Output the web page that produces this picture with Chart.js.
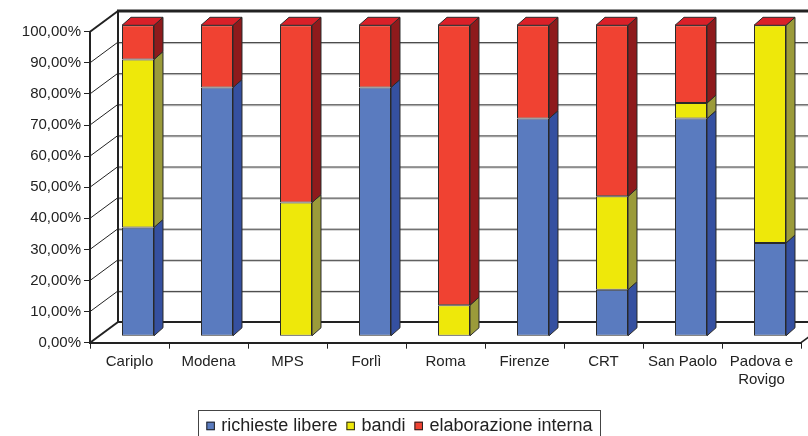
<!DOCTYPE html>
<html><head><meta charset="utf-8">
<script src="https://cdn.jsdelivr.net/npm/chart.js@4.4.1/dist/chart.umd.min.js"></script>
<style>html,body{margin:0;padding:0;background:#fff;overflow:hidden}#wrap{width:808px;height:436px;position:relative}</style>
</head><body><div id="wrap"><canvas id="c" width="808" height="436"></canvas></div>
<script>
const categories = ['Cariplo','Modena','MPS','Forlì','Roma','Firenze','CRT','San Paolo',['Padova e','Rovigo']];
const seriesNames = ['richieste libere','bandi','elaborazione interna'];
const richiesteLibere = [35, 80, 0, 80, 0, 70, 15, 70, 30];
const bandi = [54, 0, 43, 0, 10, 0, 30, 5, 70];
const elaborazioneInterna = [11, 20, 57, 20, 90, 30, 55, 25, 0];
const yTickValues = [0,10,20,30,40,50,60,70,80,90,100];

const frontColors = ['#5A7BBF', '#EEE80A', '#F04232'];
const sideColors = ['#3550A0', '#9B9B3A', '#8E1A1C'];
const capColor = '#DA2029';
const FONT = "'Liberation Sans', Arial, sans-serif";

const WALL_DX = 28, WALL_DY = -20.7;   // depth of the 3D box
const BAR_SHIFT_X = 8.5, BAR_SHIFT_Y = -6.4; // bars sit inside the box
const BAR_DX = 9, BAR_DY = -8;          // bar depth

function line(ctx, x1, y1, x2, y2) { ctx.beginPath(); ctx.moveTo(x1, y1); ctx.lineTo(x2, y2); ctx.stroke(); }
function poly(ctx, pts, fill) {
  ctx.beginPath(); ctx.moveTo(pts[0][0], pts[0][1]);
  for (let k = 1; k < pts.length; k++) ctx.lineTo(pts[k][0], pts[k][1]);
  ctx.closePath(); ctx.fillStyle = fill; ctx.fill();
  ctx.strokeStyle = '#2a2a2a'; ctx.lineWidth = 1; ctx.stroke();
}

const threeD = {
  id: 'threeD',
  beforeDatasetsDraw(chart) {
    const { ctx, chartArea: a, scales: { y } } = chart;
    const W = chart.width;
    ctx.save();
    const bx = a.left + WALL_DX;
    yTickValues.forEach(v => {
      const fy = y.getPixelForValue(v);
      const by = fy + WALL_DY;
      if (v > 0 && v < 100) {
        ctx.lineWidth = 1;
        ctx.strokeStyle = '#c4c4c4'; line(ctx, bx, by + 1.5, W, by + 1.5);
        ctx.strokeStyle = '#3a3a3a'; line(ctx, bx, by + 0.5, W, by + 0.5);
      }
      ctx.strokeStyle = '#222';
      ctx.lineWidth = (v === 0 || v === 100) ? 2 : 1;
      line(ctx, a.left, fy, bx, by);
    });
    const b0 = y.getPixelForValue(0) + WALL_DY;
    const b100 = y.getPixelForValue(100) + WALL_DY;
    ctx.strokeStyle = '#222';
    ctx.lineWidth = 2; line(ctx, bx - 1, b0, W, b0);
    ctx.lineWidth = 3; line(ctx, bx - 1, b100, W, b100);
    ctx.lineWidth = 2; line(ctx, bx, b100, bx, b0);
    ctx.lineWidth = 1.5; line(ctx, a.right, a.bottom, a.right + WALL_DX, a.bottom + WALL_DY);
    ctx.restore();
    ctx.save();
    ctx.translate(BAR_SHIFT_X, BAR_SHIFT_Y);
  },
  afterDatasetsDraw(chart) {
    const { ctx, scales: { y } } = chart;
    chart.data.datasets.forEach((ds, d) => {
      const meta = chart.getDatasetMeta(d);
      meta.data.forEach(bar => {
        const p = bar.getProps(['x', 'y', 'base', 'width'], true);
        const top = Math.min(p.y, p.base), bot = Math.max(p.y, p.base);
        if (bot - top < 0.5) return;
        const r = p.x + p.width / 2;
        poly(ctx, [[r, top], [r + BAR_DX, top + BAR_DY], [r + BAR_DX, bot + BAR_DY], [r, bot]], sideColors[d]);
      });
    });
    const lastMeta = chart.getDatasetMeta(chart.data.datasets.length - 1);
    lastMeta.data.forEach((bar, i) => {
      const p = bar.getProps(['x', 'width'], true);
      const total = richiesteLibere[i] + bandi[i] + elaborazioneInterna[i];
      const t = y.getPixelForValue(total);
      const l = p.x - p.width / 2, r = p.x + p.width / 2;
      poly(ctx, [[l, t], [l + BAR_DX, t + BAR_DY], [r + BAR_DX, t + BAR_DY], [r, t]], capColor);
    });
    ctx.restore();
  },
  afterDraw(chart) {
    const { ctx } = chart;
    ctx.save();
    ctx.font = '18px ' + FONT;
    ctx.textBaseline = 'alphabetic';
    const sq = 8.5, gapSqText = 6.5, gapItems = 9, padL = 8.5, padR = 7;
    const widths = seriesNames.map(n => ctx.measureText(n).width);
    let total = padL + padR;
    widths.forEach((w, i) => { total += sq + gapSqText + w + (i < widths.length - 1 ? gapItems : 0); });
    const cx = 398.7;
    const left = cx - total / 2;
    ctx.strokeStyle = '#444'; ctx.lineWidth = 1;
    ctx.strokeRect(Math.round(left) + 0.5, 410.5, Math.round(total), 40);
    let x = left + padL;
    seriesNames.forEach((n, i) => {
      ctx.fillStyle = frontColors[i];
      ctx.fillRect(x, 421.7, sq, sq);
      ctx.strokeStyle = '#222';
      ctx.strokeRect(x + 0.5, 422.2, sq - 1, sq - 1);
      x += sq + gapSqText;
      ctx.fillStyle = '#222';
      ctx.fillText(n, x, 431);
      x += widths[i] + gapItems;
    });
    ctx.restore();
  }
};

const seriesData = [richiesteLibere, bandi, elaborazioneInterna];
new Chart(document.getElementById('c'), {
  type: 'bar',
  data: {
    labels: categories,
    datasets: seriesNames.map((n, i) => ({
      label: n,
      data: seriesData[i],
      backgroundColor: frontColors[i],
      borderColor: '#2a2a2a',
      borderWidth: 1,
      borderSkipped: false,
      categoryPercentage: 1,
      barPercentage: 0.405,
      clip: false
    }))
  },
  options: {
    responsive: false,
    animation: false,
    events: [],
    layout: { padding: { top: 31.7, right: 7, left: 0, bottom: 0 } },
    plugins: { legend: { display: false }, tooltip: { enabled: false } },
    scales: {
      x: {
        stacked: true,
        grid: { display: true, drawOnChartArea: false, drawTicks: true, tickLength: 6, color: '#222', offset: true },
        border: { display: true, color: '#222', width: 2 },
        ticks: { font: { family: FONT, size: 15 }, color: '#222', padding: 4, maxRotation: 0, autoSkip: false },
        afterFit: s => { s.height = 93.3; }
      },
      y: {
        stacked: true,
        min: 0, max: 100,
        grid: { display: true, drawOnChartArea: false, drawTicks: true, tickLength: 6, color: '#222' },
        border: { display: true, color: '#222', width: 2 },
        ticks: {
          stepSize: 10,
          font: { family: FONT, size: 15 }, color: '#222', padding: 3,
          callback: v => v.toFixed(2).replace('.', ',') + '%'
        },
        afterFit: s => { s.width = 90; }
      }
    }
  },
  plugins: [threeD]
});
</script></body></html>
